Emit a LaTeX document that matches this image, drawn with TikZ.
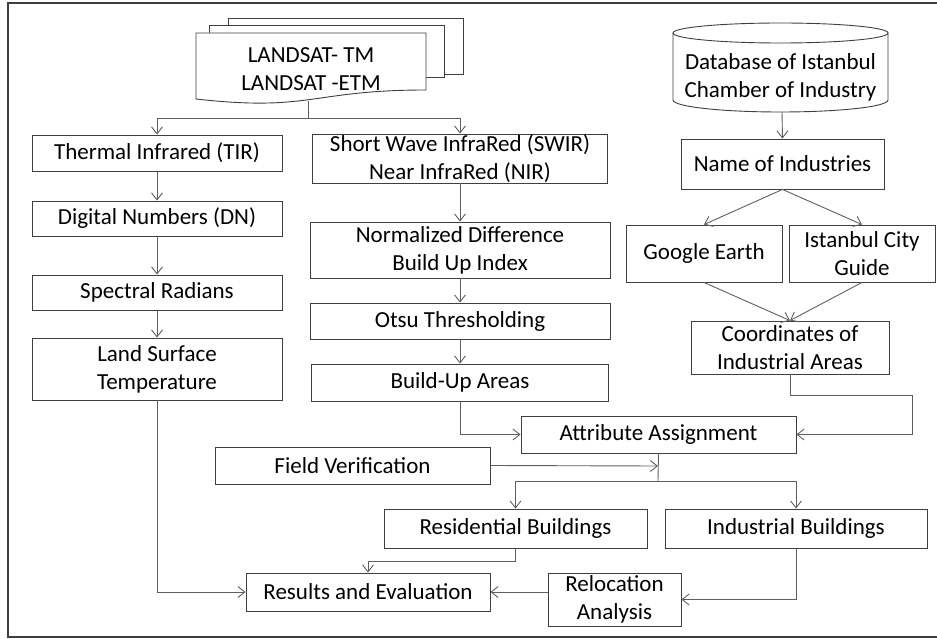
\documentclass[tikz,border=0pt]{standalone}
\usepackage{fontspec}
\setmainfont{Carlito}
\usetikzlibrary{arrows.meta}
\definecolor{boxc}{HTML}{3F3F3F}
\definecolor{linec}{HTML}{5F5F5F}

\begin{document}
\begin{tikzpicture}[x=1pt, y=-1pt,
    font=\fontsize{23}{28}\selectfont,
    box/.style={draw=boxc, line width=0.9pt, inner sep=0pt, align=center},
    arr/.style={draw=linec, line width=0.9pt, -{Straight Barb[length=7pt,width=11pt]}},
    link/.style={draw=linec, line width=0.9pt}]
    \useasboundingbox (0,0) rectangle (937,639);
    % outer frame
    \draw[boxc, line width=1.2pt] (940,3) -- (8,3) -- (8,637) -- (940,637);

    % stack of satellite images
    \draw[boxc, line width=0.9pt, fill=white] (228,18) rectangle (463,74);
    \draw[boxc, line width=0.9pt, fill=white] (209,25) rectangle (444,77);
    \draw[boxc, line width=0.9pt, fill=white] (196,33) -- (426,33) -- (426,90)
        .. controls (311,90) and (311,112) .. (196,99) -- cycle;
    \node[align=center] (sat) at (311,69) {LANDSAT- TM\\LANDSAT -ETM};
    \coordinate (satbot) at (308,101);
    \coordinate (split) at (308,118);

    % database
    \draw[boxc, line width=0.9pt] (780.5,33) ellipse [x radius=107.5, y radius=10];
    \draw[boxc, line width=0.9pt] (673,33) -- (673,100)
        arc [start angle=180, end angle=0, x radius=107.5, y radius=12] -- (888,33);
    \node[align=center] (db) at (780.5,77) {Database of Istanbul\\Chamber of Industry};
    \coordinate (dbbot) at (782,112);

    % thermal branch
    \node[box, minimum width=250, minimum height=36] (tir) at (157,153) {Thermal Infrared (TIR)};
    \node[box, minimum width=250, minimum height=35] (dn) at (157,218.5) {Digital Numbers (DN)};
    \node[box, minimum width=250, minimum height=35] (spec) at (157,292.5) {Spectral Radians};
    \node[box, minimum width=250, minimum height=62] (lst) at (157,369) {Land Surface\\Temperature};

    % built-up branch
    \node[box, minimum width=295, minimum height=49] (swir) at (460,158.5) {Short Wave InfraRed (SWIR)\\Near InfraRed (NIR)};
    \node[box, minimum width=300, minimum height=56] (ndbi) at (460,250) {Normalized Difference\\Build Up Index};
    \node[box, minimum width=300, minimum height=36] (otsu) at (460,321) {Otsu Thresholding};
    \node[box, minimum width=297, minimum height=37] (bua) at (460,382.5) {Build-Up Areas};

    % industry branch
    \node[box, minimum width=203, minimum height=50] (name) at (782.5,164) {Name of Industries};
    \node[box, minimum width=156, minimum height=57] (google) at (704,253.5) {Google Earth};
    \node[box, minimum width=146, minimum height=57] (city) at (862,253.5) {Istanbul City\\Guide};
    \node[box, minimum width=198, minimum height=53] (coord) at (790,347.5) {Coordinates of\\Industrial Areas};

    % lower part
    \node[box, minimum width=275, minimum height=37] (attr) at (658.5,434.5) {Attribute Assignment};
    \node[box, minimum width=275, minimum height=37] (field) at (352.5,465.5) {Field Verification};
    \node[box, minimum width=263, minimum height=39] (resid) at (515.5,528.5) {Residential Buildings};
    \node[box, minimum width=262, minimum height=39] (indus) at (796,528.5) {Industrial Buildings};
    \node[box, minimum width=244, minimum height=38] (results) at (368,592) {Results and Evaluation};
    \node[box, minimum width=133, minimum height=53] (reloc) at (614.5,599.5) {Relocation\\Analysis};

    \coordinate (cbend) at (912,395);
    \coordinate (fvend) at (658,466);
    \coordinate (branch) at (658,481);

    % connectors
    \draw[link] (satbot) -- (split);
    \draw[arr] (split) -| (tir.north);
    \draw[arr] (split) -| (swir.north);
    \draw[arr] (tir) -- (dn);
    \draw[arr] (dn) -- (spec);
    \draw[arr] (spec) -- (lst);
    \draw[arr] (swir) -- (ndbi);
    \draw[arr] (ndbi) -- (otsu);
    \draw[arr] (otsu) -- (bua);
    \draw[arr] (lst.south) |- (results.west);
    \draw[arr] (bua.south) |- (attr.west);

    \draw[arr] (dbbot) -- (name.north);
    \draw[arr] (name.south) -- (google.north);
    \draw[arr] (name.south) -- (city.north);
    \draw[arr] (google.south) -- (coord.north);
    \draw[arr] (city.south) -- (coord.north);
    \draw[arr] (coord.south) |- (cbend) |- (attr.east);

    \draw[arr] (field.east) -- (fvend);
    \draw[link] (attr.south) -- (branch);
    \draw[arr] (branch) -| (resid.north);
    \draw[arr] (branch) -| (indus.north);
    \draw[arr] (resid.south) -- ++(0,13) -| (results.north);
    \draw[arr] (indus.south) |- (reloc.east);
    \draw[arr] (reloc.west |- results.east) -- (results.east);
\end{tikzpicture}
\end{document}
